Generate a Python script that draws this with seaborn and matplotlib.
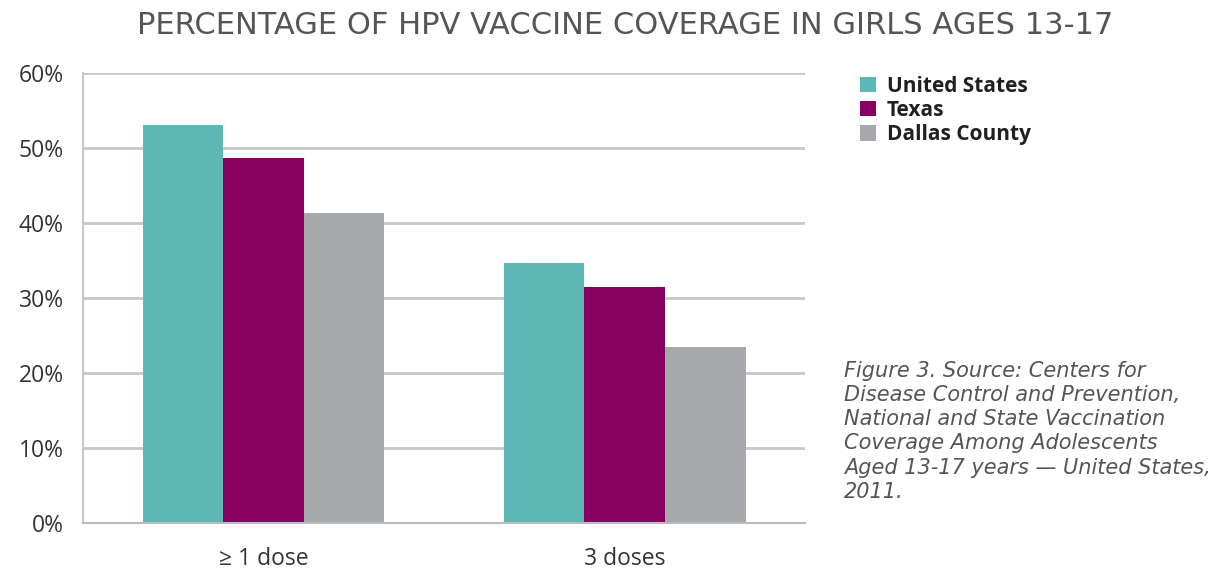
import matplotlib
matplotlib.use("Agg")
import matplotlib.pyplot as plt
import seaborn as sns
import pandas as pd

# data
doses = ["\u2265 1 dose", "3 doses"]
united_states = [53.1, 34.7]
texas = [48.7, 31.5]
dallas_county = [41.3, 23.5]
regions = ["United States", "Texas", "Dallas County"]
colors = ["#5bb8b4", "#870060", "#a7a8ab"]

rows = []
for name, vals in zip(regions, [united_states, texas, dallas_county]):
    for d, v in zip(doses, vals):
        rows.append({"dose": d, "region": name, "pct": v})
df = pd.DataFrame(rows)

sns.set_style("white")
plt.rcParams["font.family"] = ["Open Sans", "DejaVu Sans"]

fig = plt.figure(figsize=(12.28, 5.73), dpi=100)
ax = fig.add_axes([0.0676, 0.0873, 0.588, 0.7853])

sns.barplot(data=df, x="dose", y="pct", hue="region", palette=colors,
            hue_order=regions, order=doses, width=0.67, saturation=1,
            linewidth=0, ax=ax)

ax.set_ylim(0, 60)
ax.set_yticks(range(0, 61, 10))
ax.set_yticklabels([f"{t}%" for t in range(0, 61, 10)], fontsize=16.5, color="#333333")
ax.set_xlim(-0.5, 1.5)
ax.set_xticks([0.5], minor=True)
ax.tick_params(axis="x", which="major", length=0, pad=17, labelsize=16.5, labelcolor="#333333")
ax.tick_params(axis="x", which="minor", length=8, color="#bbbbbb", width=1.5)
ax.tick_params(axis="y", length=8, color="#c8c8c8", width=1.5, pad=6)
ax.set_xlabel("")
ax.set_ylabel("")
ax.yaxis.grid(True, color="#c8c8c8", linewidth=2)
ax.set_axisbelow(True)
for s in ["top", "right"]:
    ax.spines[s].set_visible(False)
ax.spines["left"].set_color("#c8c8c8")
ax.spines["left"].set_linewidth(1.5)
ax.spines["bottom"].set_color("#bbbbbb")
ax.spines["bottom"].set_linewidth(1.5)

leg = ax.legend(loc="upper left", bbox_to_anchor=(1.05, 1.035), frameon=False,
                handlelength=0.75, handleheight=0.75, handletextpad=0.55,
                labelspacing=0.15, prop={"size": 15, "weight": "bold"})
for t in leg.get_texts():
    t.set_color("#231f20")

fig.text(0.509, 0.955, "PERCENTAGE OF HPV VACCINE COVERAGE IN GIRLS AGES 13-17",
         ha="center", va="center", fontsize=22, color="#555555",
         family=["DejaVu Sans"])

fig.text(0.687, 0.37,
         "Figure 3. Source: Centers for\nDisease Control and Prevention,\n"
         "National and State Vaccination\nCoverage Among Adolescents\n"
         "Aged 13-17 years \u2014 United States,\n2011.",
         ha="left", va="top", fontsize=15, style="italic", color="#555555",
         linespacing=1.26, family=["DejaVu Sans"])

fig.savefig("out.png", dpi=100)
